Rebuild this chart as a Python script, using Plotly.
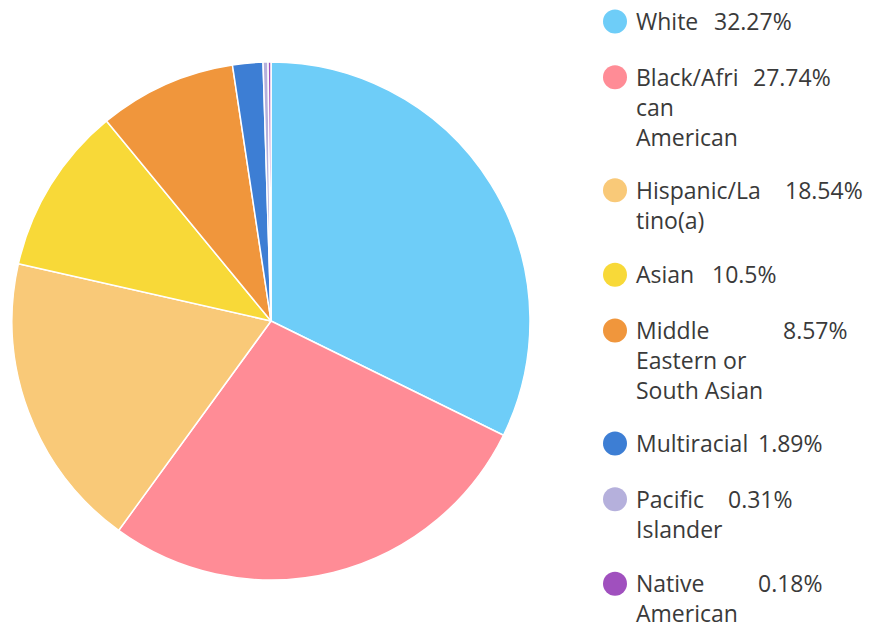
import plotly.graph_objects as go

# ---- data ----
categories = ["White", "Black/African American", "Hispanic/Latino(a)", "Asian",
              "Middle Eastern or South Asian", "Multiracial", "Pacific Islander",
              "Native American"]
percentages = [32.27, 27.74, 18.54, 10.5, 8.57, 1.89, 0.31, 0.18]
pct_labels = ["32.27%", "27.74%", "18.54%", "10.5%", "8.57%", "1.89%", "0.31%", "0.18%"]
legend_lines = [
    ["White"],
    ["Black/Afri", "can", "American"],
    ["Hispanic/La", "tino(a)"],
    ["Asian"],
    ["Middle", "Eastern or", "South Asian"],
    ["Multiracial"],
    ["Pacific", "Islander"],
    ["Native", "American"],
]
colors = ["#6ECDF8", "#FF8C96", "#F9C978", "#F8D938", "#F0963C",
          "#3D7ED4", "#B5B0DC", "#A050BE"]

# ---- layout helpers (pixel positions) ----
W, H = 876, 630
pct_x = [712, 751, 783, 710, 781, 756, 726, 756]
label_x = 634
dot_x = 615
dot_r = 12
line_h = 28.6
row_gap = 55.8
font = dict(family="Open Sans", size=23, color="#3a3a3a")

fig = go.Figure(go.Pie(
    labels=categories,
    values=percentages,
    sort=False,
    direction="clockwise",
    rotation=0,
    textinfo="none",
    marker=dict(colors=colors, line=dict(color="white", width=1.5)),
    showlegend=False,
    domain=dict(x=[12 / W, 530 / W], y=[1 - 580 / H, 1 - 62 / H]),
))

annotations = []
shapes = []
y = 21.5
for i, lines in enumerate(legend_lines):
    shapes.append(dict(type="circle", xref="paper", yref="paper",
                       x0=(dot_x - dot_r) / W, x1=(dot_x + dot_r) / W,
                       y0=1 - (y + dot_r) / H, y1=1 - (y - dot_r) / H,
                       fillcolor=colors[i], line=dict(width=0)))
    top = y - line_h / 2 - 4
    annotations.append(dict(x=label_x / W, y=1 - top / H,
                            xref="paper", yref="paper", text="<br>".join(lines),
                            showarrow=False, xanchor="left", yanchor="top",
                            align="left", font=font))
    annotations.append(dict(x=pct_x[i] / W, y=1 - top / H, xref="paper", yref="paper",
                            text=pct_labels[i], showarrow=False, xanchor="left",
                            yanchor="top", font=font))
    y += row_gap + (len(lines) - 1) * line_h

fig.update_layout(
    width=W, height=H,
    margin=dict(l=0, r=0, t=0, b=0),
    paper_bgcolor="white", plot_bgcolor="white",
    annotations=annotations, shapes=shapes,
)

fig.write_html("out.html", config={"displayModeBar": False},
               post_script="document.body.style.margin='0';")
